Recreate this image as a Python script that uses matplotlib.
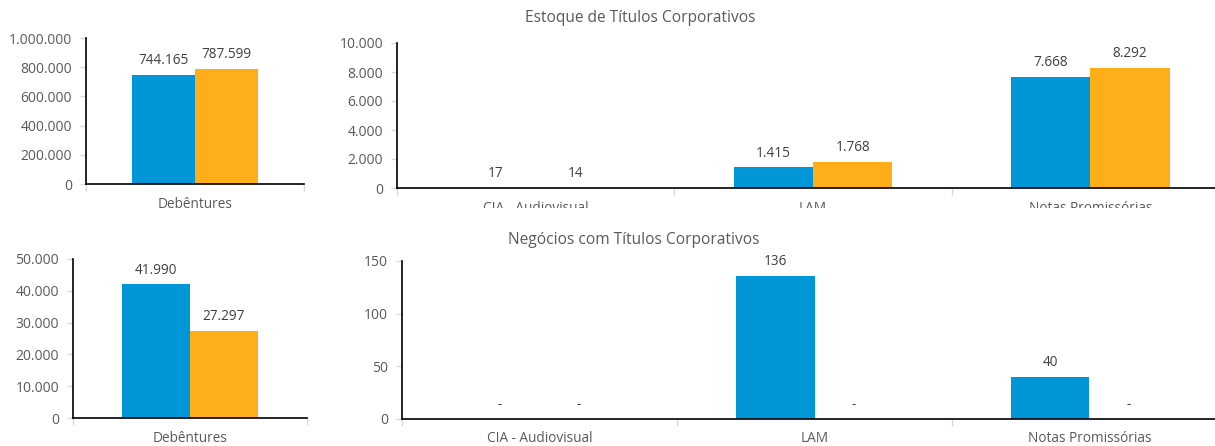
import matplotlib
matplotlib.use("Agg")
import matplotlib.pyplot as plt
from matplotlib.ticker import FuncFormatter
from matplotlib.transforms import Bbox, TransformedBbox
import numpy as np

plt.rcParams['font.family'] = ['Open Sans', 'DejaVu Sans']

# ---- data ----
deb_label = ["Debêntures"]
estoque_deb_a = [744165]
estoque_deb_b = [787599]

outros_labels = ["CIA - Audiovisual", "LAM", "Notas Promissórias"]
estoque_out_a = [17, 1415, 7668]
estoque_out_b = [14, 1768, 8292]

negocios_deb_a = [41990]
negocios_deb_b = [27297]
negocios_out_a = [0, 136, 40]
negocios_out_b = [0, 0, 0]

title_top = "Estoque de Títulos Corporativos"
title_bottom = "Negócios com Títulos Corporativos"

BLUE = "#0096D7"
ORANGE = "#FDAE19"
TICK_COL = "#595959"
LBL_COL = "#404040"

W, H = 1215, 446
fig = plt.figure(figsize=(W / 100, H / 100), dpi=100)


def fmt(v):
    if v == 0:
        return "-"
    return f"{v:,.0f}".replace(",", ".")


def axes_px(left, top, right, bottom):
    return fig.add_axes([left / W, 1 - bottom / H, (right - left) / W, (bottom - top) / H])


def draw(ax, cats, a, b, ymax, ystep, width=0.29, clip_y=None, xpad=9):
    x = np.arange(len(cats))
    ba = ax.bar(x - width / 2, a, width, color=BLUE, zorder=2)
    bb = ax.bar(x + width / 2, b, width, color=ORANGE, zorder=2)
    for bars, vals in ((ba, a), (bb, b)):
        for r, v in zip(bars, vals):
            ax.annotate(fmt(v), (r.get_x() + r.get_width() / 2, r.get_height()),
                        xytext=(0, 5), textcoords="offset points",
                        ha="center", va="bottom", fontsize=9.8, color=LBL_COL)
    ax.set_xlim(-0.5, len(cats) - 0.5)
    ax.set_ylim(0, ymax)
    ax.set_yticks(np.arange(0, ymax + ystep / 2, ystep))
    ax.yaxis.set_major_formatter(FuncFormatter(lambda v, p: f"{v:,.0f}".replace(",", ".") if v else "0"))
    ax.set_xticks(x)
    ax.set_xticklabels(cats)
    ax.set_xticks(np.arange(-0.5, len(cats)), minor=True)
    ax.tick_params(axis="x", which="major", length=0, pad=xpad, labelsize=9.8, labelcolor=TICK_COL)
    ax.tick_params(axis="x", which="minor", length=5, color="#D9D9D9", width=1)
    ax.tick_params(axis="y", length=4, color="#D9D9D9", width=1, pad=6,
                   labelsize=10, labelcolor=TICK_COL)
    for s in ("top", "right"):
        ax.spines[s].set_visible(False)
    for s in ("left", "bottom"):
        ax.spines[s].set_color("black")
        ax.spines[s].set_linewidth(1.2)
    ax.set_facecolor("none")
    if clip_y is not None:
        cb = TransformedBbox(Bbox([[0, 1 - clip_y / H], [1, 1]]), fig.transFigure)
        for lbl in ax.get_xticklabels():
            lbl.set_clip_box(cb)
            lbl.set_clip_on(True)


ax1 = axes_px(86, 38, 304, 184)
draw(ax1, deb_label, estoque_deb_a, estoque_deb_b, 1000000, 200000)

ax2 = axes_px(397, 43, 1229, 188)
draw(ax2, outros_labels, estoque_out_a, estoque_out_b, 10000, 2000, width=0.2865, clip_y=208)

ax3 = axes_px(73, 259, 307, 418)
draw(ax3, deb_label, negocios_deb_a, negocios_deb_b, 50000, 10000, xpad=9)

ax4 = axes_px(402, 261, 1227, 419)
draw(ax4, outros_labels, negocios_out_a, negocios_out_b, 150, 50, width=0.2865, xpad=8.5)

fig.text(640 / W, 1 - 18 / H, title_top, ha="center", va="center", fontsize=11.2, color=TICK_COL)
fig.text(634 / W, 1 - 240 / H, title_bottom, ha="center", va="center", fontsize=11.2, color=TICK_COL)

fig.savefig("out.png", dpi=100)
